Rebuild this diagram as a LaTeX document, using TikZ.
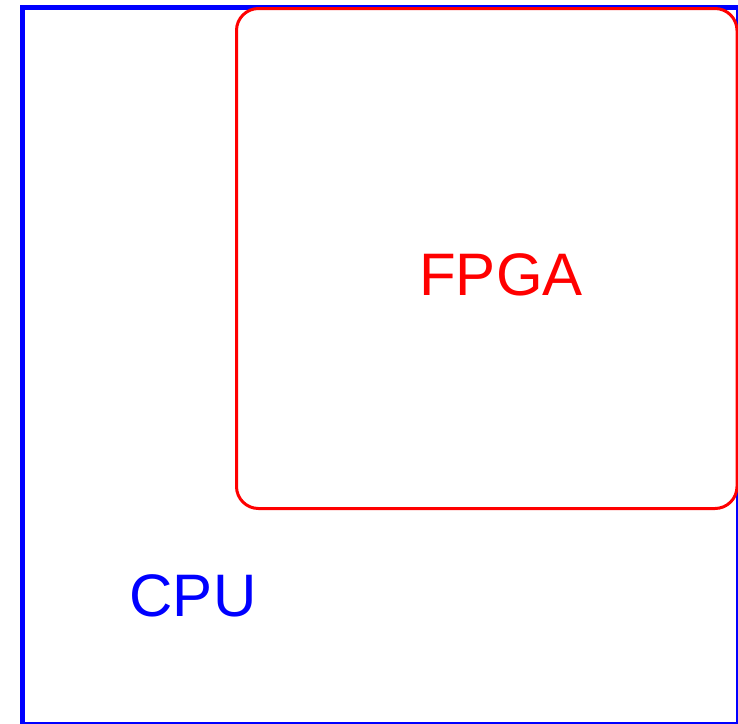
\documentclass[tikz,border=0pt]{standalone}
\usepackage{fontspec}
\setmainfont{Liberation Sans}
\begin{document}
\begin{tikzpicture}[x=1pt,y=-1pt,
  cpubox/.style={draw=blue,line width=5pt},
  fpgabox/.style={draw=red,line width=3pt,rounded corners=22pt},
  label/.style={inner sep=0pt,anchor=base,font=\fontsize{60}{72}\selectfont}]
  \clip (0,0) rectangle (738,723);
  % CPU region
  \path[cpubox] (22,7.5) rectangle (738.5,724);
  % FPGA region inside the CPU
  \path[fpgabox] (236.5,8.5) rectangle (737,508.5);
  \node[label,text=red] (fpga) at (501,295) {FPGA};
  \node[label,text=blue] (cpu) at (193,616) {CPU};
\end{tikzpicture}
\end{document}
